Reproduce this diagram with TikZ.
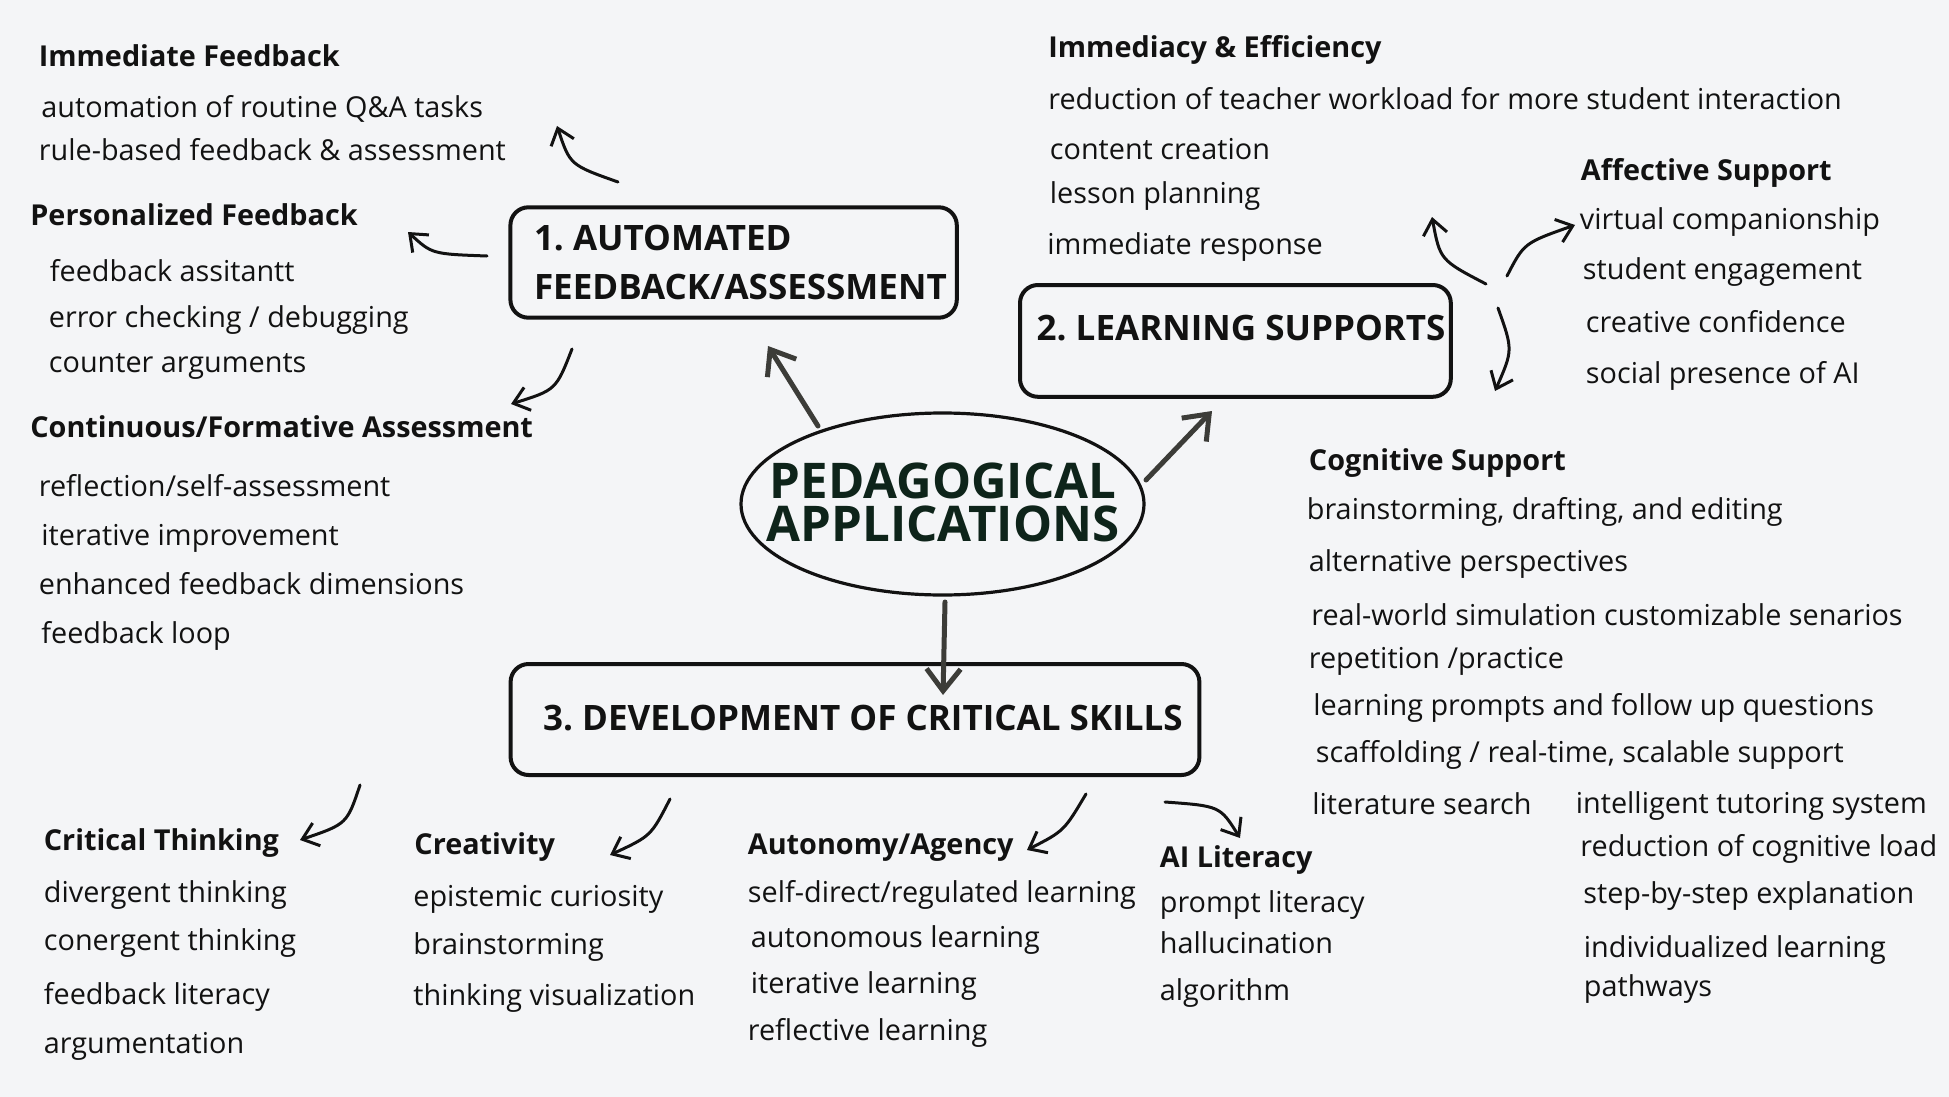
\documentclass[tikz,border=0pt]{standalone}
\usepackage{fontspec}
\setmainfont{Open Sans}
\frenchspacing
\usetikzlibrary{arrows.meta,shapes.geometric}
\definecolor{bg}{RGB}{244,245,247}
\definecolor{ink}{RGB}{18,18,18}
\definecolor{arrowgray}{RGB}{60,60,56}
\definecolor{titlegreen}{RGB}{14,36,26}
\begin{document}
\begin{tikzpicture}[x=0.5pt,y=-0.5pt,
  txt/.style={anchor=base west, inner sep=0pt, text=ink, font=\fontsize{14.4}{17}\selectfont},
  hd/.style={anchor=base west, inner sep=0pt, text=ink, font=\bfseries\fontsize{14.4}{17}\selectfont},
  boxframe/.style={draw=ink, line width=2pt, rounded corners=9pt, inner sep=0pt},
  boxtxt/.style={anchor=base west, inner sep=0pt, text=ink, font=\bfseries\fontsize{17.5}{20}\selectfont},
  titletxt/.style={anchor=center, inner sep=0pt, align=center, text=titlegreen, font=\bfseries\fontsize{24.6}{21.25}\selectfont},
  thinarrow/.style={draw=ink, line width=1.5pt, line cap=round, -{Straight Barb[length=7.5pt,width=12pt]}},
  thickarrow/.style={draw=arrowgray, line width=2.5pt, line cap=round, -{Straight Barb[length=11pt,width=17pt]}},
]
\fill[bg] (0,0) rectangle (1949,1097);
\useasboundingbox (0,0) rectangle (1949,1097);

% central ellipse
\node[draw=ink, line width=1.6pt, ellipse, inner sep=0pt, minimum width=201.5pt, minimum height=91pt] (pa) at (942.5,504) {};
\node[titletxt] (pat) at (943,502.5) {PEDAGOGICAL\\APPLICATIONS};

% boxes
\node[boxframe, minimum width=223.2pt, minimum height=55.2pt] (b1) at (733.6,262.5) {};
\node[boxtxt] (b1a) at (533.6,250.7) {1. AUTOMATED};
\node[boxtxt] (b1b) at (533.6,299.3) {FEEDBACK/ASSESSMENT};
\node[boxframe, minimum width=215.4pt, minimum height=55.9pt] (b2) at (1235.4,340.9) {};
\node[boxtxt] (b2a) at (1036.3,340.7) {2. LEARNING SUPPORTS};
\node[boxframe, minimum width=344.4pt, minimum height=55.5pt] (b3) at (855,719.5) {};
\node[boxtxt] (b3a) at (542.8,730) {3. DEVELOPMENT OF CRITICAL SKILLS};

% left group
\node[hd]  (ifh) at (38.5,67) {Immediate Feedback};
\node[txt] (if1) at (41,118) {automation of routine Q\&A tasks};
\node[txt] (if2) at (38.5,161) {rule-based feedback \& assessment};
\node[hd]  (pfh) at (30,225) {Personalized Feedback};
\node[txt] (pf1) at (49.5,281) {feedback assitantt};
\node[txt] (pf2) at (48.5,327) {error checking / debugging};
\node[txt] (pf3) at (48.5,372) {counter arguments};
\node[hd]  (cfh) at (30,437) {Continuous/Formative Assessment};
\node[txt] (cf1) at (38.5,496) {reflection/self-assessment};
\node[txt] (cf2) at (41,545) {iterative improvement};
\node[txt] (cf3) at (38.5,594) {enhanced feedback dimensions};
\node[txt] (cf4) at (41,643) {feedback loop};

% right top
\node[hd]  (ieh) at (1048,58) {Immediacy \& Efficiency};
\node[txt] (ie1) at (1048,110) {reduction of teacher workload for more student interaction};
\node[txt] (ie2) at (1049.5,160) {content creation};
\node[txt] (ie3) at (1049.5,204) {lesson planning};
\node[txt] (ie4) at (1047,254) {immediate response};
\node[hd]  (afh) at (1580.5,180) {Affective Support};
\node[txt] (af1) at (1579.5,229) {virtual companionship};
\node[txt] (af2) at (1582.5,279) {student engagement};
\node[txt] (af3) at (1585.5,332) {creative confidence};
\node[txt] (af4) at (1585.5,383) {social presence of AI};

% cognitive support
\node[hd]  (csh) at (1308.5,470) {Cognitive Support};
\node[txt] (cs1) at (1306.5,519) {brainstorming, drafting, and editing};
\node[txt] (cs2) at (1308.5,571) {alternative perspectives};
\node[txt] (cs3) at (1311,625) {real-world simulation customizable senarios};
\node[txt] (cs4) at (1308.5,668) {repetition /practice};
\node[txt] (cs5) at (1313,715) {learning prompts and follow up questions};
\node[txt] (cs6) at (1315.5,762) {scaffolding / real-time, scalable support};
\node[txt] (cs7) at (1312,814) {literature search};
\node[txt] (cs8) at (1575.5,813) {intelligent tutoring system};
\node[txt] (cs9) at (1580,856) {reduction of cognitive load};
\node[txt] (cs10) at (1583,903) {step-by-step explanation};
\node[txt] (cs11) at (1583.5,957) {individualized learning};
\node[txt] (cs12) at (1583.5,996) {pathways};

% bottom groups
\node[hd]  (cth) at (43.5,850) {Critical Thinking};
\node[txt] (ct1) at (43.5,902) {divergent thinking};
\node[txt] (ct2) at (43.5,950) {conergent thinking};
\node[txt] (ct3) at (43.5,1004) {feedback literacy};
\node[txt] (ct4) at (43.5,1053) {argumentation};
\node[hd]  (crh) at (414,854) {Creativity};
\node[txt] (cr1) at (413,906) {epistemic curiosity};
\node[txt] (cr2) at (413,954) {brainstorming};
\node[txt] (cr3) at (413,1005) {thinking visualization};
\node[hd]  (auh) at (747.5,854) {Autonomy/Agency};
\node[txt] (au1) at (747.5,902) {self-direct/regulated learning};
\node[txt] (au2) at (750.5,947) {autonomous learning};
\node[txt] (au3) at (750.5,993) {iterative learning};
\node[txt] (au4) at (747.5,1040) {reflective learning};
\node[hd]  (aih) at (1159.5,867) {AI Literacy};
\node[txt] (ai1) at (1159.5,912) {prompt literacy};
\node[txt] (ai2) at (1159.5,953) {hallucination};
\node[txt] (ai3) at (1159.5,1000) {algorithm};

% arrow end points
\coordinate (t1) at (618,182);  \coordinate (h1) at (557,126);
\coordinate (t2) at (487,256);  \coordinate (h2) at (408,232);
\coordinate (t3) at (572,349);  \coordinate (h3) at (511,404);
\coordinate (t4) at (818,426);  \coordinate (h4) at (768,346);
\coordinate (t5) at (1146,480); \coordinate (h5) at (1212,411);
\coordinate (t6) at (945,602);  \coordinate (h6) at (943,695);
\coordinate (t7) at (1486,284); \coordinate (h7) at (1432,217);
\coordinate (t8) at (1507,276); \coordinate (h8) at (1575,225);
\coordinate (t9) at (1498,308); \coordinate (h9) at (1495,391);
\coordinate (t10) at (360,785); \coordinate (h10) at (300,840);
\coordinate (t11) at (670,799); \coordinate (h11) at (610,855);
\coordinate (t12) at (1086,794); \coordinate (h12) at (1027,850);
\coordinate (t13) at (1165,802); \coordinate (h13) at (1240,838);

\draw[thinarrow] (t1) .. controls (570,165) .. (h1);
\draw[thinarrow] (t2) .. controls (432,254) .. (h2);
\draw[thinarrow] (t3) .. controls (556,390) .. (h3);
\draw[thickarrow] (t4) -- (h4);
\draw[thickarrow] (t5) -- (h5);
\draw[thickarrow] (t6) -- (h6);
\draw[thinarrow] (t7) .. controls (1440,260) .. (h7);
\draw[thinarrow] (t8) .. controls (1524,243) .. (h8);
\draw[thinarrow] (t9) .. controls (1513,350) .. (h9);
\draw[thinarrow] (t10) .. controls (347,824) .. (h10);
\draw[thinarrow] (t11) .. controls (651,836) .. (h11);
\draw[thinarrow] (t12) .. controls (1064,831) .. (h12);
\draw[thinarrow] (t13) .. controls (1220,806) .. (h13);
\end{tikzpicture}
\end{document}
